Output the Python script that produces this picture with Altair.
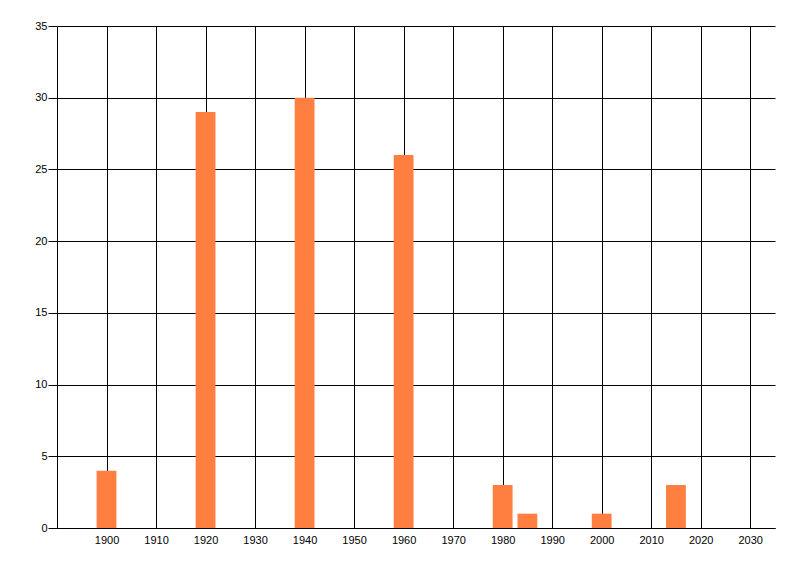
import altair as alt
import pandas as pd

years = [1900, 1920, 1940, 1960, 1980, 1985, 2000, 2015]
counts = [4, 29, 30, 26, 3, 1, 1, 3]
x_ticks = list(range(1900, 2031, 10))
y_ticks = [0, 5, 10, 15, 20, 25, 30, 35]

df = pd.DataFrame({"year": years, "count": counts})
df["x0"] = df["year"] - 2
df["x1"] = df["year"] + 2

chart = alt.Chart(df).mark_rect(color="#FF7F40").encode(
    x=alt.X("x0:Q",
            scale=alt.Scale(domain=[1890, 2035], nice=False, zero=False),
            axis=alt.Axis(values=x_ticks, format="d", title=None, ticks=False,
                          labelPadding=6, grid=True, gridColor="black",
                          gridOpacity=1, domainColor="black", labelColor="black",
                          labelFont="Liberation Sans", labelFontSize=11)),
    x2="x1:Q",
    y=alt.Y("count:Q",
            scale=alt.Scale(domain=[0, 35], nice=False),
            axis=alt.Axis(values=y_ticks, title=None, tickSize=9, tickColor="black",
                          labelPadding=1, grid=True, gridColor="black", gridOpacity=1,
                          domainColor="black", labelColor="black",
                          labelFont="Liberation Sans", labelFontSize=11)),
    y2=alt.datum(0),
).properties(
    width=718, height=502,
    autosize=alt.AutoSizeParams(type="none"),
    padding={"left": 49, "top": 18, "right": 10, "bottom": 40},
).configure_view(stroke=None).configure_axis(domainWidth=1, gridWidth=1)

chart.save("out.html", embed_options={"renderer": "svg", "actions": False})
